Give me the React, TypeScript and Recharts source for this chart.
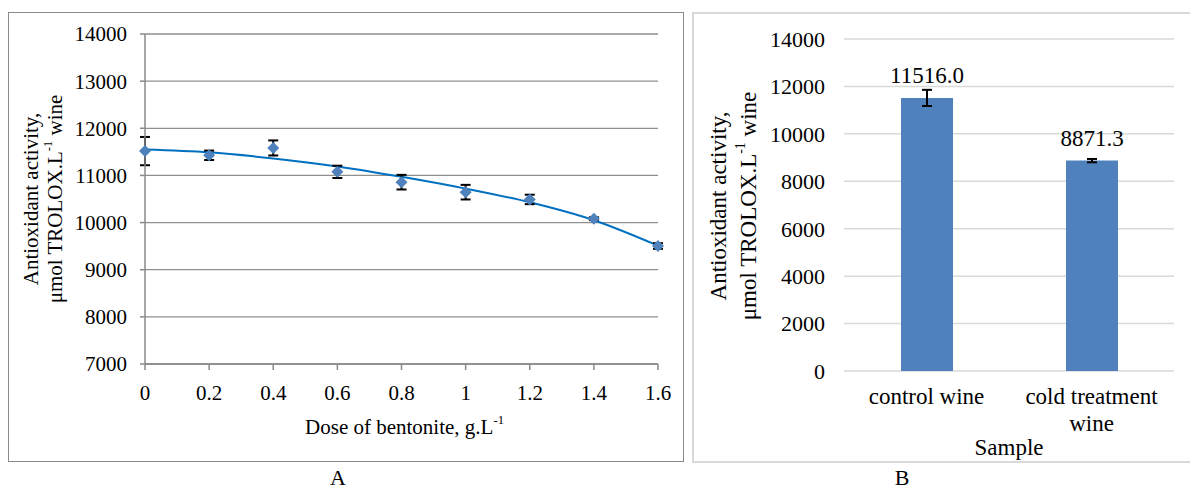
import React from 'react';
import {
  ComposedChart,
  BarChart,
  Bar,
  Line,
  Scatter,
  XAxis,
  YAxis,
  CartesianGrid,
  ErrorBar,
  LabelList,
  Label,
} from 'recharts';

// Panel A: antioxidant activity vs bentonite dose
const doses = [0, 0.2, 0.4, 0.6, 0.8, 1, 1.2, 1.4, 1.6];
const activity = [11516, 11427, 11583, 11076, 10857, 10645, 10491, 10082, 9503];
const activityErr = [300, 100, 160, 130, 155, 155, 100, 30, 60];
const trend = [11550, 11490, 11360, 11190, 10970, 10720, 10430, 10050, 9510];
const doseTicks = [0, 0.2, 0.4, 0.6, 0.8, 1, 1.2, 1.4, 1.6];
const activityTicks = [7000, 8000, 9000, 10000, 11000, 12000, 13000, 14000];

// Panel B: control vs cold treated wine
const samples = ['control wine', 'cold treatment wine'];
const sampleActivity = [11516.0, 8871.3];
const sampleErr = [340, 70];
const sampleTicks = [0, 2000, 4000, 6000, 8000, 10000, 12000, 14000];

const serif = 'Liberation Serif, DejaVu Serif, serif';

const doseData = doses.map((x, i) => ({
  x,
  y: activity[i],
  err: activityErr[i],
  trend: trend[i],
}));

const sampleData = samples.map((name, i) => ({
  name,
  value: sampleActivity[i],
  err: sampleErr[i],
}));

const Diamond = (props: any) => {
  const { cx, cy } = props;
  const r = 6;
  return (
    <polygon
      points={`${cx},${cy - r} ${cx + r},${cy} ${cx},${cy + r} ${cx - r},${cy}`}
      fill="#4F81BD"
    />
  );
};

// two-line rotated y axis title
const yTitle = (x1: number, x2: number, dy: number, size: number) => (props: any) => {
  const vb = props.viewBox;
  const cy = vb.y + vb.height / 2 + dy;
  const a = vb.x + x1;
  const b = vb.x + x2;
  return (
    <g style={{ fontFamily: serif, fontSize: size }} fill="#000">
      <text x={a} y={cy} textAnchor="middle" dominantBaseline="central" transform={`rotate(-90 ${a} ${cy})`}>
        Antioxidant activity,
      </text>
      <text x={b} y={cy} textAnchor="middle" dominantBaseline="central" transform={`rotate(-90 ${b} ${cy})`}>
        μmol TROLOX.L<tspan baselineShift="super" fontSize="0.6em">-1</tspan>  wine
      </text>
    </g>
  );
};

const doseTitle = (props: any) => {
  const vb = props.viewBox;
  return (
    <text
      x={vb.x + vb.width / 2 + 3}
      y={vb.y + 63}
      textAnchor="middle"
      dominantBaseline="central"
      style={{ fontFamily: serif, fontSize: 21 }}
      fill="#000"
    >
      Dose of bentonite, g.L<tspan baselineShift="super" fontSize="0.6em">-1</tspan>
    </text>
  );
};

const sampleTitle = (props: any) => {
  const vb = props.viewBox;
  return (
    <text
      x={vb.x + vb.width / 2}
      y={vb.y + 76}
      textAnchor="middle"
      dominantBaseline="central"
      style={{ fontFamily: serif, fontSize: 23 }}
      fill="#000"
    >
      Sample
    </text>
  );
};

// wrap category names the way the original axis does (max ~14 chars per line)
const wrapWords = (s: string, max: number) => {
  const lines: string[] = [];
  let cur = '';
  s.split(' ').forEach((w) => {
    const next = cur ? cur + ' ' + w : w;
    if (next.length > max && cur) {
      lines.push(cur);
      cur = w;
    } else {
      cur = next;
    }
  });
  if (cur) lines.push(cur);
  return lines;
};

const SampleTick = (props: any) => {
  const { x, y, payload } = props;
  const lines = wrapWords(String(payload.value), 14);
  return (
    <text x={x} y={y} textAnchor="middle" fill="#000" style={{ fontFamily: serif, fontSize: 23 }}>
      {lines.map((l, i) => (
        <tspan key={i} x={x} dy={i === 0 ? 16 : 27}>
          {l}
        </tspan>
      ))}
    </text>
  );
};

const valueLabel = (props: any) => {
  const { x, y, width, value } = props;
  return (
    <text
      x={x + width / 2}
      y={y - 22}
      textAnchor="middle"
      dominantBaseline="central"
      style={{ fontFamily: serif, fontSize: 23 }}
      fill="#000"
    >
      {Number(value).toFixed(1)}
    </text>
  );
};

const tickA = { fill: '#000', fontSize: 21, fontFamily: serif, style: { fontFamily: serif } };
const tickB = { fill: '#000', fontSize: 22, fontFamily: serif, style: { fontFamily: serif } };

export default function App() {
  return (
    <div style={{ position: 'absolute', left: 0, top: 0, width: 1190, height: 489, background: '#fff', overflow: 'hidden', fontFamily: serif }}>
      {/* panel frames */}
      <div style={{ position: 'absolute', left: 8, top: 12, width: 676, height: 450, border: '1.5px solid #8a8a8a', boxSizing: 'border-box' }} />
      <div style={{ position: 'absolute', left: 692, top: 12, width: 510, height: 451, border: '2px solid #d9d9d9', boxSizing: 'border-box' }} />

      <div style={{ position: 'absolute', left: 0, top: 0 }}>
        <ComposedChart width={690} height={489} data={doseData} margin={{ top: 34, right: 32, bottom: 65, left: 0 }}>
          <CartesianGrid vertical={false} stroke="#8f8f8f" strokeWidth={1.3} />
          <XAxis
            dataKey="x"
            type="number"
            domain={[0, 1.6]}
            ticks={doseTicks}
            height={60}
            tick={tickA}
            tickSize={6}
            tickMargin={15}
            stroke="#8a8a8a"
            strokeWidth={1.5}
            interval={0}
          >
            <Label content={doseTitle} />
          </XAxis>
          <YAxis
            type="number"
            domain={[7000, 14000]}
            ticks={activityTicks}
            width={145}
            tick={tickA}
            tickSize={5}
            tickMargin={13}
            stroke="#8a8a8a"
            strokeWidth={1.5}
            interval={0}
          >
            <Label content={yTitle(31, 55, 0, 21)} />
          </YAxis>
          <Line
            dataKey="trend"
            type="monotone"
            stroke="#0070C0"
            strokeWidth={2}
            dot={false}
            isAnimationActive={false}
          />
          <Scatter dataKey="y" shape={Diamond} isAnimationActive={false}>
            <ErrorBar dataKey="err" direction="y" width={5} stroke="#000" strokeWidth={2} />
          </Scatter>
        </ComposedChart>
      </div>

      <div style={{ position: 'absolute', left: 693, top: 0 }}>
        <BarChart width={497} height={489} data={sampleData} margin={{ top: 39, right: 16, bottom: 58, left: 0 }} barSize={52}>
          <CartesianGrid vertical={false} stroke="#d9d9d9" strokeWidth={1.5} />
          <XAxis
            dataKey="name"
            height={60}
            axisLine={false}
            tickLine={false}
            tickSize={0}
            tickMargin={17}
            tick={<SampleTick />}
            interval={0}
          >
            <Label content={sampleTitle} />
          </XAxis>
          <YAxis
            type="number"
            domain={[0, 14000]}
            ticks={sampleTicks}
            width={151}
            axisLine={false}
            tickLine={false}
            tickSize={0}
            tickMargin={19}
            tick={tickB}
            interval={0}
          >
            <Label content={yTitle(25.7, 55, 1, 23)} />
          </YAxis>
          <Bar dataKey="value" fill="#4F81BD" isAnimationActive={false}>
            <ErrorBar dataKey="err" direction="y" width={5} stroke="#000" strokeWidth={2} />
            <LabelList dataKey="value" content={valueLabel} />
          </Bar>
        </BarChart>
      </div>

      <div style={{ position: 'absolute', left: 318, top: 467, width: 40, height: 22, textAlign: 'center', fontFamily: serif, fontSize: 22, lineHeight: '22px', color: '#000' }}>
        A
      </div>
      <div style={{ position: 'absolute', left: 882, top: 467, width: 40, height: 22, textAlign: 'center', fontFamily: serif, fontSize: 22, lineHeight: '22px', color: '#000' }}>
        B
      </div>
    </div>
  );
}
